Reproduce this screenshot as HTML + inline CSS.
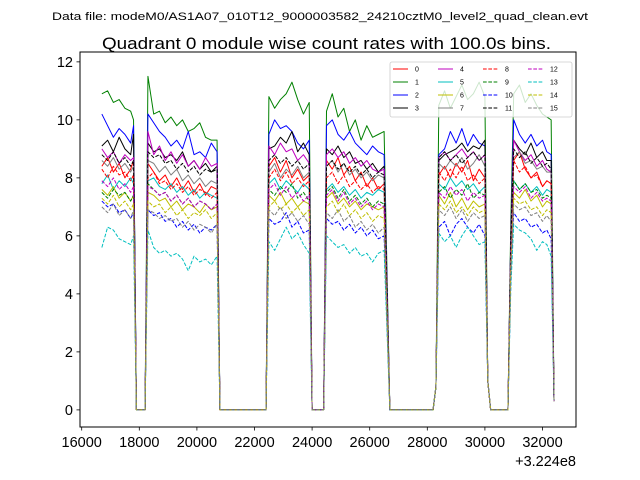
<!DOCTYPE html>
<html><head><meta charset="utf-8">
<style>
body{margin:0;background:#fff;}
svg{display:block;font-family:"Liberation Sans","DejaVu Sans",sans-serif;}
</style></head>
<body>
<svg id="chart" width="640" height="480" viewBox="0 0 640 480">
<rect width="640" height="480" fill="#fff"/>
<text x="320" y="20" font-size="11" text-anchor="middle" textLength="536" lengthAdjust="spacingAndGlyphs">Data file: modeM0/AS1A07_010T12_9000003582_24210cztM0_level2_quad_clean.evt</text>
<text x="326.5" y="49" font-size="16.5" text-anchor="middle" textLength="449" lengthAdjust="spacingAndGlyphs">Quadrant 0 module wise count rates with 100.0s bins.</text>
<g id="plot"></g>
</svg>
<script>
const times=[16700,16900,17100,17300,17500,17700,17800,17900,18200,
18300,18500,18700,18900,19100,19300,19500,19700,19900,20100,20300,20500,20700,20800,22400,
22500,22700,22900,23100,23300,23500,23700,23900,24000,24400,
24500,24700,24900,25100,25300,25500,25700,25900,26100,26300,26500,26700,28200,28300,
28400,28600,28800,29000,29200,29400,29600,29800,30000,30100,30200,30800,
30900,31000,31200,31400,31600,31800,32000,32150,32300,32400];
const s0=[8.4,8.7,8.2,8.5,8.0,8.3,8.6,0,0, 8.5,8.2,7.9,8.1,7.7,8.0,7.6,7.9,7.5,7.8,7.4,7.7,7.6,0,0, 8.4,8.7,8.2,8.6,8.0,8.3,7.9,8.1,0,0, 8.6,8.3,8.7,8.1,8.4,7.9,8.2,7.7,8.0,7.6,7.8,0,0,0.8, 8.1,8.4,8.0,8.5,8.2,8.6,7.9,8.3,8.0,1,0,0, 5.5,8.6,8.9,8.3,8.0,8.2,7.7,7.9,7.8,0.3];
const s1=[10.9,11.0,10.6,10.7,10.4,10.3,10.0,0,0, 11.5,10.2,10.3,9.9,10.1,9.8,10.0,9.6,9.7,9.9,9.4,9.3,9.3,0,0, 10.8,10.4,10.7,10.9,11.3,10.7,10.2,10.6,0,0, 10.3,10.9,10.1,10.4,9.6,10.0,9.3,9.8,9.4,9.5,9.6,0,0,0.8, 10.5,11.0,10.4,10.8,11.2,10.7,10.9,11.3,10.8,1,0,0, 6.5,10.9,11.2,10.6,10.9,10.5,10.2,10.1,10.0,0.3];
const s2=[10.2,9.8,9.4,9.7,9.5,9.2,9.8,0,0, 10.2,9.9,9.6,9.4,9.1,9.3,9.0,9.6,8.8,8.9,8.7,9.2,8.9,0,0, 9.5,10.0,9.7,9.8,9.6,9.2,9.0,9.3,0,0, 9.8,10.0,9.5,9.3,9.6,9.2,9.0,8.8,9.1,8.9,8.8,0,0,0.8, 8.8,9.0,9.6,9.2,9.7,9.1,9.5,9.2,9.1,1,0,0, 6.0,10.0,9.5,9.2,9.5,9.1,9.3,8.9,8.8,0.3];
const s3=[9.1,9.3,8.9,9.4,9.0,8.8,9.5,0,0, 9.2,8.9,9.0,8.7,8.8,8.6,8.9,8.4,8.6,8.3,8.5,8.2,8.4,0,0, 9.0,9.1,9.4,9.2,9.6,8.9,9.2,8.8,0,0, 9.0,8.8,9.1,8.7,8.9,8.5,8.6,8.3,8.5,8.2,8.4,0,0,0.8, 8.6,8.8,8.9,9.0,9.2,8.9,9.1,9.0,9.3,1,0,0, 6.0,9.3,9.0,8.8,9.2,8.7,8.9,8.6,8.6,0.3];
const s4=[9.0,8.7,8.9,8.5,8.8,8.6,8.7,0,0, 9.6,8.8,9.1,8.6,8.9,8.5,8.8,8.4,8.6,8.3,8.7,8.4,8.5,0,0, 9.1,8.8,9.2,8.9,9.0,8.6,8.8,8.5,0,0, 8.8,9.0,8.7,8.9,8.5,8.7,8.4,8.6,8.3,8.2,8.3,0,0,0.8, 8.7,8.9,8.6,8.8,9.0,8.7,8.9,8.6,8.8,1,0,0, 5.8,9.3,8.9,8.6,8.8,8.4,8.6,8.3,8.2,0.3];
const s5=[7.8,8.1,7.6,7.9,7.7,8.0,7.8,0,0, 7.9,8.0,7.7,7.6,7.8,7.5,7.7,7.4,7.6,7.3,7.5,7.4,7.3,0,0, 7.8,8.0,7.6,7.9,7.7,7.5,7.8,7.6,0,0, 7.6,7.8,7.5,7.7,7.4,7.6,7.3,7.5,7.4,7.6,7.5,0,0,0.8, 7.8,7.6,8.0,7.7,7.9,7.6,7.8,7.5,7.7,1,0,0, 5.2,7.9,7.6,7.8,7.5,7.7,7.4,7.6,7.5,0.3];
const s6=[7.6,7.4,7.7,7.3,7.5,7.2,7.4,0,0, 7.5,7.4,7.2,7.3,7.0,7.2,6.9,7.1,7.0,6.8,7.1,6.9,7.0,0,0, 7.4,7.2,7.5,7.1,7.3,7.0,7.2,7.1,0,0, 7.3,7.5,7.1,7.3,7.0,7.2,6.9,7.1,7.0,6.9,7.0,0,0,0.8, 7.4,7.1,7.5,7.0,7.3,6.9,7.2,7.0,7.1,1,0,0, 5.0,7.5,7.3,7.6,7.2,7.4,7.0,7.2,7.1,0.3];
const s7=[8.6,8.4,8.7,8.3,8.5,8.2,8.4,0,0, 8.6,8.5,8.2,8.4,8.1,8.3,7.9,8.1,7.8,8.0,7.7,7.9,7.8,0,0, 8.2,8.5,8.0,8.3,8.1,8.4,8.0,8.2,0,0, 8.4,8.6,8.2,8.5,8.1,8.3,8.0,8.2,7.9,8.1,8.0,0,0,0.8, 8.5,8.3,8.6,8.4,8.7,8.3,8.5,8.8,8.4,1,0,0, 5.8,8.7,8.9,8.5,8.6,8.3,8.4,8.2,8.2,0.3];
const s8=[8.3,8.0,8.4,8.1,8.2,7.9,8.1,0,0, 8.0,8.2,7.8,7.9,7.6,7.8,7.5,7.7,7.4,7.6,7.5,7.3,7.5,0,0, 8.0,8.3,7.9,8.2,7.8,8.0,7.7,7.9,0,0, 8.0,8.2,7.8,8.1,7.7,7.9,7.6,7.8,7.5,7.7,7.6,0,0,0.8, 8.2,7.9,8.3,8.0,8.4,7.9,8.1,7.8,8.0,1,0,0, 5.5,8.6,8.2,8.4,8.0,8.1,7.7,7.9,7.8,0.3];
const s9=[7.5,7.3,7.6,7.4,7.5,7.2,7.4,0,0, 7.8,7.6,7.4,7.5,7.2,7.4,7.1,7.3,7.0,7.2,7.1,6.9,7.1,0,0, 7.6,7.4,7.7,7.5,7.8,7.3,7.5,7.2,0,0, 7.5,7.7,7.3,7.6,7.2,7.4,7.1,7.3,7.0,7.2,7.1,0,0,0.8, 7.5,7.7,7.3,7.6,7.4,7.8,7.3,7.5,7.4,1,0,0, 5.2,7.9,7.6,7.8,7.5,7.6,7.3,7.4,7.3,0.3];
const s10=[7.2,7.0,7.1,6.8,6.9,6.6,6.8,0,0, 6.9,6.7,6.8,6.5,6.6,6.3,6.5,6.2,6.4,6.1,6.3,6.2,6.4,0,0, 6.6,6.4,6.5,6.8,6.3,6.5,6.1,6.2,0,0, 6.6,6.4,6.5,6.2,6.4,6.1,6.3,6.0,6.2,5.9,6.0,0,0,0.8, 6.3,6.5,6.0,6.4,6.6,6.3,6.1,6.4,6.0,1,0,0, 4.5,6.8,6.5,6.6,6.3,6.4,6.1,6.2,5.9,0.3];
const s11=[8.8,8.6,8.9,8.5,8.7,8.4,8.6,0,0, 8.9,8.7,8.8,8.5,8.6,8.3,8.5,8.2,8.4,8.1,8.3,8.2,8.3,0,0, 8.6,8.8,8.5,8.7,8.4,8.6,8.3,8.5,0,0, 8.4,8.6,8.3,8.5,8.2,8.4,8.1,8.3,8.0,8.2,8.1,0,0,0.8, 8.7,8.9,8.6,8.8,8.5,8.7,8.9,8.6,8.8,1,0,0, 5.8,9.0,8.7,8.9,8.5,8.7,8.4,8.5,8.3,0.3];
const s12=[7.9,7.7,8.0,7.6,7.8,7.5,7.7,0,0, 7.7,7.6,7.4,7.5,7.2,7.4,7.1,7.3,7.0,7.2,7.1,6.9,7.1,0,0, 7.6,7.8,7.4,7.7,7.3,7.5,7.2,7.4,0,0, 7.4,7.6,7.2,7.5,7.1,7.3,7.0,7.2,6.9,7.1,7.0,0,0,0.8, 7.5,7.3,7.7,7.4,7.6,7.2,7.5,7.3,7.4,1,0,0, 5.2,7.7,7.5,7.7,7.3,7.5,7.2,7.3,7.2,0.3];
const s13=[5.6,6.3,6.2,5.9,5.8,5.7,6.0,0,0, 6.2,5.6,5.4,5.5,5.3,5.4,5.2,4.8,5.3,5.1,5.2,5.0,5.3,0,0, 5.8,5.5,5.9,6.3,5.9,6.1,5.7,5.4,0,0, 6.0,5.8,5.6,5.7,5.4,5.6,5.3,5.4,5.1,5.4,5.5,0,0,0.8, 6.1,5.8,6.0,5.6,6.0,6.3,6.0,5.7,5.8,1,0,0, 4.2,6.4,6.2,6.1,5.9,5.5,5.8,5.7,5.3,0.3];
const s14=[7.3,7.1,7.4,7.0,7.2,6.9,7.1,0,0, 7.2,7.0,7.1,6.8,7.0,6.7,6.9,6.6,6.8,6.7,6.9,6.6,6.8,0,0, 7.0,7.2,6.9,7.1,6.8,7.0,6.7,6.9,0,0, 7.0,7.2,6.8,7.1,6.7,6.9,6.6,6.8,6.5,6.7,6.6,0,0,0.8, 7.1,6.9,7.2,6.8,7.0,6.7,7.0,6.8,6.9,1,0,0, 4.9,7.3,7.1,7.2,6.9,7.0,6.7,6.9,6.8,0.3];
const s15=[7.0,6.8,7.1,6.7,6.9,6.6,6.9,0,0, 6.9,6.8,6.6,6.7,6.5,6.6,6.3,6.5,6.2,6.4,6.3,6.1,6.4,0,0, 6.9,6.7,7.0,6.6,6.8,6.5,6.7,6.4,0,0, 6.8,6.6,6.9,6.5,6.7,6.3,6.5,6.2,6.4,6.1,6.3,0,0,0.8, 6.9,6.7,7.0,6.6,6.9,6.5,6.8,6.6,6.7,1,0,0, 4.8,7.1,6.9,7.0,6.7,6.8,6.5,6.7,6.5,0.3];
const series=[s0,s1,s2,s3,s4,s5,s6,s7,s8,s9,s10,s11,s12,s13,s14,s15];
const seriesNames=["0","1","2","3","4","5","6","7","8","9","10","11","12","13","14","15"];
const yTicks=[0,2,4,6,8,10,12];
const xTicks=[16000,18000,20000,22000,24000,26000,28000,30000,32000];
const colors=["#ff0000","#008000","#0000ff","#000000","#bf00bf","#00bfbf","#bfbf00","#808080"];

const L=80,R=576,T=52,B=427;
const X0=15941,X1=33163,Y0=-0.59,Y1=12.34;
const xs=v=>L+(v-X0)/(X1-X0)*(R-L);
const ys=v=>B-(v-Y0)/(Y1-Y0)*(B-T);
const NS="http://www.w3.org/2000/svg";
const g=document.getElementById('plot');
function mk(tag,attrs,parent){const e=document.createElementNS(NS,tag);for(const k in attrs)e.setAttribute(k,attrs[k]);(parent||g).appendChild(e);return e;}

series.forEach((s,i)=>{
  const d=s.map((v,j)=>(j?'L':'M')+xs(times[j]).toFixed(2)+','+ys(v).toFixed(2)).join(' ');
  const p=mk('path',{d:d,fill:'none',stroke:colors[i%8],'stroke-width':1,'stroke-linejoin':'round'});
  if(i>=8)p.setAttribute('stroke-dasharray','3.7,1.6');
  
  
});

const frame=mk('rect',{x:L,y:T,width:R-L,height:B-T,fill:'none',stroke:'#000','stroke-width':1});



yTicks.forEach(v=>{
  const y=ys(v);
  const t=mk('line',{x1:L-3.5,x2:L,y1:y,y2:y,stroke:'#000','stroke-width':0.8});
  
  
  const tx=mk('text',{x:L-7,y:y+5,'font-size':14.5,'text-anchor':'end'});
  tx.textContent=v;
  
  
});
xTicks.forEach(v=>{
  const x=xs(v);
  const t=mk('line',{x1:x,x2:x,y1:B,y2:B+3.5,stroke:'#000','stroke-width':0.8});
  
  
  const tx=mk('text',{x:x,y:B+20,'font-size':14.5,'text-anchor':'middle'});
  tx.textContent=v;
  
  
});
const off=mk('text',{x:R,y:466,'font-size':14.5,'text-anchor':'end'});
off.textContent='+3.224e8';



const lg=mk('g',{});


mk('rect',{x:390,y:62,width:182,height:55,rx:2,fill:'#fff','fill-opacity':0.8,stroke:'#ccc','stroke-width':0.8},lg);
series.forEach((s,i)=>{
  const col=Math.floor(i/4),row=i%4;
  const x=393+col*45,y=69+row*13;
  const ln=mk('line',{x1:x,x2:x+15,y1:y,y2:y,stroke:colors[i%8],'stroke-width':1},lg);
  if(i>=8)ln.setAttribute('stroke-dasharray','3.7,1.6');
  
  
  const tx=mk('text',{x:x+22,y:y+2.5,'font-size':7},lg);
  tx.textContent=seriesNames[i];
  
  
});
</script>
</body></html>
